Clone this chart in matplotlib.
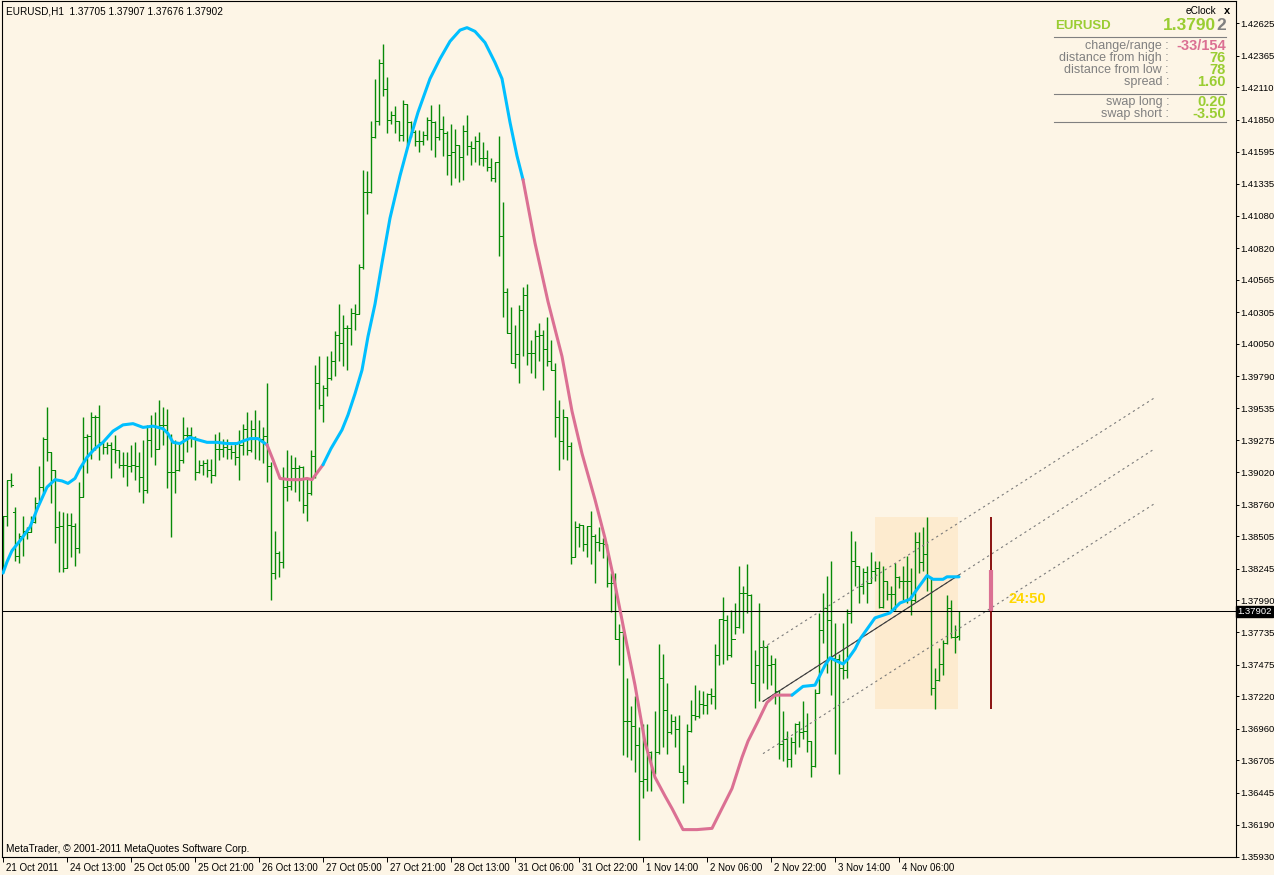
import matplotlib
matplotlib.use('Agg')
import matplotlib.pyplot as plt
from matplotlib.transforms import blended_transform_factory, ScaledTranslation
import numpy as np

plt.rcParams['font.family'] = ['Liberation Sans', 'DejaVu Sans']

# ---------------- data (EURUSD H1) ----------------
symbol_title = "EURUSD,H1  1.37705 1.37907 1.37676 1.37902"
bar_index = list(range(240))

opens = [1.3826, 1.3867, 1.3896, 1.3870, 1.3835, 1.3851, 1.3855, 1.3854, 1.3862, 1.3877,
         1.3890, 1.3929, 1.3918, 1.3904, 1.3858, 1.3859, 1.3825, 1.3860, 1.3859, 1.3841,
         1.3882, 1.3930, 1.3931, 1.3946, 1.3946, 1.3926, 1.3922, 1.3924, 1.3921, 1.3920,
         1.3908, 1.3908, 1.3907, 1.3908, 1.3907, 1.3898, 1.3888, 1.3928, 1.3940, 1.3921,
         1.3940, 1.3940, 1.3902, 1.3902, 1.3904, 1.3912, 1.3932, 1.3932, 1.3930, 1.3902,
         1.3908, 1.3909, 1.3904, 1.3900, 1.3921, 1.3921, 1.3922, 1.3921, 1.3918, 1.3914,
         1.3924, 1.3937, 1.3920, 1.3937, 1.3929, 1.3929, 1.3931, 1.3907, 1.3821, 1.3837,
         1.3830, 1.3890, 1.3891, 1.3905, 1.3905, 1.3906, 1.3876, 1.3885, 1.3915, 1.3974,
         1.3956, 1.3970, 1.3978, 1.3991, 1.4012, 1.4006, 1.4018, 1.4018, 1.4030, 1.4029,
         1.4067, 1.4127, 1.4127, 1.4171, 1.4184, 1.4231, 1.4210, 1.4185, 1.4189, 1.4184,
         1.4173, 1.4198, 1.4183, 1.4175, 1.4168, 1.4168, 1.4173, 1.4185, 1.4183, 1.4171,
         1.4178, 1.4174, 1.4157, 1.4159, 1.4165, 1.4155, 1.4176, 1.4164, 1.4162, 1.4168,
         1.4154, 1.4154, 1.4147, 1.4138, 1.4151, 1.4092, 1.4047, 1.4014, 1.3990, 1.3997,
         1.4032, 1.4044, 1.3998, 1.3998, 1.4011, 1.4012, 1.4001, 1.3991, 1.3984, 1.3946,
         1.3927, 1.3946, 1.3923, 1.3834, 1.3858, 1.3860, 1.3844, 1.3859, 1.3851, 1.3846,
         1.3845, 1.3844, 1.3813, 1.3813, 1.3768, 1.3774, 1.3702, 1.3702, 1.3698, 1.3683,
         1.3654, 1.3656, 1.3677, 1.3661, 1.3677, 1.3737, 1.3711, 1.3693, 1.3702, 1.3696,
         1.3661, 1.3654, 1.3694, 1.3707, 1.3706, 1.3716, 1.3715, 1.3724, 1.3722, 1.3755,
         1.3784, 1.3783, 1.3755, 1.3768, 1.3778, 1.3805, 1.3805, 1.3803, 1.3733, 1.3747,
         1.3762, 1.3762, 1.3747, 1.3748, 1.3726, 1.3684, 1.3688, 1.3672, 1.3685, 1.3700,
         1.3693, 1.3694, 1.3686, 1.3666, 1.3725, 1.3775, 1.3793, 1.3783, 1.3753, 1.3752,
         1.3745, 1.3743, 1.3789, 1.3831, 1.3827, 1.3811, 1.3822, 1.3813, 1.3823, 1.3825,
         1.3794, 1.3815, 1.3804, 1.3804, 1.3818, 1.3815, 1.3815, 1.3815, 1.3799, 1.3846,
         1.3830, 1.3836, 1.3818, 1.3729, 1.3735, 1.3748, 1.3765, 1.3793, 1.3770, 1.37705]

highs = [1.3867, 1.3896, 1.3901, 1.3874, 1.3853, 1.3867, 1.3858, 1.3867, 1.3882, 1.3907,
         1.3930, 1.3954, 1.3918, 1.3904, 1.3871, 1.3870, 1.3869, 1.3869, 1.3861, 1.3894,
         1.3946, 1.3933, 1.3950, 1.3948, 1.3956, 1.3926, 1.3926, 1.3926, 1.3932, 1.3920,
         1.3918, 1.3918, 1.3924, 1.3926, 1.3918, 1.3928, 1.3940, 1.3948, 1.3950, 1.3960,
         1.3954, 1.3953, 1.3933, 1.3928, 1.3926, 1.3946, 1.3938, 1.3938, 1.3931, 1.3912,
         1.3912, 1.3913, 1.3913, 1.3933, 1.3934, 1.3929, 1.3929, 1.3924, 1.3926, 1.3936,
         1.3941, 1.3950, 1.3944, 1.3952, 1.3944, 1.3938, 1.3974, 1.3910, 1.3855, 1.3839,
         1.3906, 1.3920, 1.3916, 1.3914, 1.3908, 1.3907, 1.3897, 1.3920, 1.3988, 1.3995,
         1.3972, 1.3995, 1.3999, 1.4015, 1.4037, 1.4028, 1.4020, 1.4034, 1.4037, 1.4069,
         1.4145, 1.4144, 1.4184, 1.4218, 1.4234, 1.4246, 1.4219, 1.4192, 1.4196, 1.4184,
         1.4201, 1.4198, 1.4184, 1.4177, 1.4177, 1.4176, 1.4187, 1.4197, 1.4184, 1.4198,
         1.4188, 1.4176, 1.4182, 1.4178, 1.4165, 1.4181, 1.4189, 1.4168, 1.4172, 1.4175,
         1.4167, 1.4161, 1.4154, 1.4151, 1.4172, 1.4119, 1.4050, 1.4035, 1.4020, 1.4036,
         1.4051, 1.4053, 1.4008, 1.4016, 1.4022, 1.4016, 1.4027, 1.4008, 1.3990, 1.3960,
         1.3953, 1.3946, 1.3926, 1.3863, 1.3861, 1.3860, 1.3859, 1.3871, 1.3852, 1.3858,
         1.3849, 1.3844, 1.3821, 1.3821, 1.3780, 1.3775, 1.3737, 1.3714, 1.3722, 1.3697,
         1.3700, 1.3700, 1.3678, 1.3710, 1.3764, 1.3756, 1.3733, 1.3708, 1.3706, 1.3707,
         1.3667, 1.3700, 1.3719, 1.3731, 1.3727, 1.3726, 1.3725, 1.3729, 1.3764, 1.3784,
         1.3802, 1.3787, 1.3791, 1.3797, 1.3827, 1.3811, 1.3828, 1.3804, 1.3759, 1.3797,
         1.3767, 1.3763, 1.3755, 1.3753, 1.3727, 1.3710, 1.3694, 1.3689, 1.3701, 1.3702,
         1.3718, 1.3709, 1.3686, 1.3728, 1.3789, 1.3805, 1.3819, 1.3831, 1.3781, 1.3756,
         1.3781, 1.3792, 1.3855, 1.3847, 1.3827, 1.3825, 1.3827, 1.3838, 1.3831, 1.3831,
         1.3827, 1.3815, 1.3811, 1.3829, 1.3819, 1.3827, 1.3835, 1.3825, 1.3854, 1.3854,
         1.3858, 1.38658, 1.3818, 1.3745, 1.3761, 1.3767, 1.3803, 1.3799, 1.3779, 1.37907]

lows = [1.3821, 1.3859, 1.3890, 1.3831, 1.3829, 1.3835, 1.3848, 1.3854, 1.3861, 1.3877,
        1.3885, 1.3911, 1.3877, 1.3845, 1.3822, 1.3822, 1.3825, 1.3834, 1.3827, 1.3837,
        1.3882, 1.3901, 1.3913, 1.3920, 1.3912, 1.3917, 1.3917, 1.3897, 1.3909, 1.3905,
        1.3898, 1.3891, 1.3902, 1.3896, 1.3886, 1.3877, 1.3885, 1.3914, 1.3908, 1.3921,
        1.3924, 1.3889, 1.3850, 1.3885, 1.3903, 1.3909, 1.3918, 1.3922, 1.3896, 1.3901,
        1.3900, 1.3898, 1.3893, 1.3899, 1.3912, 1.3914, 1.3913, 1.3913, 1.3908, 1.3896,
        1.3916, 1.3916, 1.3918, 1.3913, 1.3912, 1.3909, 1.3894, 1.3799, 1.3816, 1.3818,
        1.3825, 1.3879, 1.3888, 1.3886, 1.3879, 1.3869, 1.3863, 1.3884, 1.3897, 1.3953,
        1.3942, 1.3963, 1.3976, 1.3979, 1.3991, 1.3987, 1.3984, 1.4004, 1.4016, 1.4029,
        1.4065, 1.4109, 1.4126, 1.4170, 1.4181, 1.4204, 1.4174, 1.4182, 1.4174, 1.4168,
        1.4168, 1.4165, 1.4171, 1.4164, 1.4159, 1.4165, 1.4169, 1.4161, 1.4155, 1.4169,
        1.4156, 1.4141, 1.4133, 1.4138, 1.4135, 1.4137, 1.4157, 1.4149, 1.4151, 1.4149,
        1.4148, 1.4144, 1.4136, 1.4135, 1.4076, 1.4027, 1.4014, 1.3990, 1.3986, 1.3974,
        1.3995, 1.3988, 1.3982, 1.3978, 1.3991, 1.3968, 1.3987, 1.3984, 1.3930, 1.3904,
        1.3913, 1.3912, 1.3828, 1.3834, 1.3842, 1.3839, 1.3834, 1.3828, 1.3813, 1.3839,
        1.3833, 1.3810, 1.3790, 1.3768, 1.3747, 1.3675, 1.3673, 1.3671, 1.3661, 1.3607,
        1.3640, 1.3646, 1.3646, 1.3660, 1.3676, 1.3681, 1.3676, 1.3692, 1.3681, 1.3661,
        1.3636, 1.3652, 1.3693, 1.3703, 1.3705, 1.3708, 1.3708, 1.3716, 1.3712, 1.3747,
        1.3748, 1.3751, 1.3754, 1.3772, 1.3777, 1.3773, 1.3789, 1.3733, 1.3713, 1.3718,
        1.3733, 1.3728, 1.3731, 1.3716, 1.3672, 1.3670, 1.3665, 1.3665, 1.3676, 1.3681,
        1.3688, 1.3677, 1.3657, 1.3665, 1.3725, 1.3765, 1.3741, 1.3723, 1.3676, 1.3660,
        1.3736, 1.3737, 1.3781, 1.3811, 1.3797, 1.3804, 1.3797, 1.3813, 1.3815, 1.3793,
        1.3793, 1.3799, 1.3791, 1.3791, 1.3809, 1.3799, 1.3797, 1.3787, 1.3798, 1.3821,
        1.3823, 1.3807, 1.3723, 1.37121, 1.3734, 1.3739, 1.3764, 1.3769, 1.3757, 1.37676]

closes = [1.3867, 1.3896, 1.3892, 1.3835, 1.3851, 1.3855, 1.3854, 1.3862, 1.3877, 1.3890,
          1.3929, 1.3918, 1.3904, 1.3858, 1.3859, 1.3825, 1.3860, 1.3859, 1.3841, 1.3882,
          1.3930, 1.3931, 1.3946, 1.3946, 1.3926, 1.3922, 1.3924, 1.3921, 1.3920, 1.3908,
          1.3908, 1.3907, 1.3908, 1.3907, 1.3898, 1.3888, 1.3928, 1.3940, 1.3921, 1.3940,
          1.3940, 1.3902, 1.3902, 1.3904, 1.3912, 1.3932, 1.3932, 1.3930, 1.3902, 1.3908,
          1.3909, 1.3904, 1.3900, 1.3921, 1.3921, 1.3922, 1.3921, 1.3918, 1.3914, 1.3924,
          1.3937, 1.3920, 1.3937, 1.3929, 1.3929, 1.3931, 1.3907, 1.3821, 1.3837, 1.3830,
          1.3890, 1.3891, 1.3905, 1.3905, 1.3906, 1.3876, 1.3885, 1.3915, 1.3974, 1.3956,
          1.3970, 1.3978, 1.3991, 1.4012, 1.4006, 1.4018, 1.4018, 1.4030, 1.4029, 1.4067,
          1.4127, 1.4127, 1.4171, 1.4184, 1.4231, 1.4210, 1.4185, 1.4189, 1.4184, 1.4173,
          1.4198, 1.4183, 1.4175, 1.4168, 1.4168, 1.4173, 1.4185, 1.4183, 1.4171, 1.4178,
          1.4174, 1.4157, 1.4159, 1.4165, 1.4155, 1.4176, 1.4164, 1.4162, 1.4168, 1.4154,
          1.4154, 1.4147, 1.4138, 1.4151, 1.4092, 1.4047, 1.4014, 1.3990, 1.3997, 1.4032,
          1.4044, 1.3998, 1.3998, 1.4011, 1.4012, 1.4001, 1.3991, 1.3984, 1.3946, 1.3927,
          1.3946, 1.3923, 1.3834, 1.3858, 1.3860, 1.3844, 1.3859, 1.3851, 1.3846, 1.3845,
          1.3844, 1.3813, 1.3813, 1.3768, 1.3774, 1.3702, 1.3702, 1.3698, 1.3683, 1.3654,
          1.3656, 1.3677, 1.3661, 1.3677, 1.3737, 1.3711, 1.3693, 1.3702, 1.3696, 1.3661,
          1.3654, 1.3694, 1.3707, 1.3706, 1.3716, 1.3715, 1.3724, 1.3722, 1.3755, 1.3784,
          1.3783, 1.3755, 1.3768, 1.3778, 1.3805, 1.3805, 1.3803, 1.3733, 1.3747, 1.3762,
          1.3762, 1.3747, 1.3748, 1.3726, 1.3684, 1.3688, 1.3672, 1.3685, 1.3700, 1.3693,
          1.3694, 1.3686, 1.3666, 1.3725, 1.3775, 1.3793, 1.3783, 1.3753, 1.3752, 1.3745,
          1.3743, 1.3789, 1.3831, 1.3827, 1.3811, 1.3822, 1.3813, 1.3823, 1.3825, 1.3794,
          1.3815, 1.3804, 1.3804, 1.3818, 1.3815, 1.3815, 1.3815, 1.3799, 1.3846, 1.3830,
          1.3836, 1.3818, 1.3729, 1.3735, 1.3748, 1.3765, 1.3793, 1.3770, 1.3770, 1.37902]

# trend moving average (read at selected bar positions)
ma_index = [0, 1, 2.25, 4.25, 6.75, 8.75, 11, 13, 14.75, 16.25, 18, 19.25, 21, 23, 25,
            27.5, 30, 32.5, 35, 37.5, 40, 41.25, 42.5, 44.25, 46.75, 48.75, 51, 53.5, 56,
            58.5, 60, 61.75, 63.75, 66, 67.5, 69.25, 71.75, 74.25, 76, 77.25, 80, 82,
            84.75, 86.25, 88, 89.75, 91.25, 93, 94.75, 96.75, 99.25, 101.25, 103.75,
            106.75, 109.25, 111.75, 114.25, 116, 118, 120.5, 123, 124.75, 126.75, 128.5,
            130, 133, 136.25, 139.75, 142.25, 144.75, 148, 150.5, 153, 155.5, 158, 160.5,
            163, 165.5, 167.25, 170, 173.5, 177.25, 179.75, 182.25, 184.75, 186.25,
            188.75, 191, 193, 197.25, 200, 203, 204.25, 205.5, 206.75, 208, 210, 211.25,
            213, 214.25, 218, 221.75, 224.25, 226.75, 228.75, 231, 232.5, 235, 236, 239]
ma_values = [1.3821, 1.3830, 1.3839, 1.3847, 1.3858, 1.3874, 1.3890, 1.3896, 1.3895, 1.3893,
             1.3897, 1.3905, 1.3914, 1.3921, 1.3926, 1.3935, 1.3940, 1.3941, 1.3938, 1.3939,
             1.3937, 1.3933, 1.3926, 1.3925, 1.3930, 1.3928, 1.3926, 1.3926, 1.3925, 1.3925,
             1.3927, 1.3929, 1.3929, 1.3924, 1.3912, 1.3897, 1.3896, 1.3896, 1.3897, 1.3896,
             1.3908, 1.3921, 1.3936, 1.3948, 1.3965, 1.3984, 1.4011, 1.4037, 1.4070, 1.4106,
             1.4140, 1.4164, 1.4191, 1.4218, 1.4234, 1.4248, 1.4257, 1.4259, 1.4256, 1.4247,
             1.4231, 1.4218, 1.4183, 1.4156, 1.4137, 1.4086, 1.4039, 1.3995, 1.3951, 1.3917,
             1.3880, 1.3849, 1.3812, 1.3771, 1.3731, 1.3685, 1.3657, 1.3642, 1.3632, 1.3615,
             1.3615, 1.3616, 1.3632, 1.3648, 1.3673, 1.3686, 1.3702, 1.3717, 1.3723, 1.3723,
             1.3730, 1.3731, 1.3739, 1.3747, 1.3753, 1.3751, 1.3748, 1.3752, 1.3760, 1.3768,
             1.3785, 1.3789, 1.3797, 1.3800, 1.3809, 1.3819, 1.3816, 1.3816, 1.3818, 1.3818]
ma_down_spans = [(66, 80), (130, 197.25)]

# regression channel
channel_index = [190, 288]
channel_upper = [1.3761, 1.3962]
channel_mid = [1.3718, 1.3921]
channel_lower = [1.3676, 1.3877]
last_bar = 239

# today's range (eClock)
day_box_index = [218, 238.75]
day_candle_index = 247
day_open, day_high, day_low, day_close = 1.38231, 1.38658, 1.37121, 1.37902
current_price = 1.37902
timer_text = "24:50"
timer_pos = (251.3, 1.38005)

ytick_values = [1.42625, 1.42365, 1.42110, 1.41850, 1.41595, 1.41335, 1.41080, 1.40820,
                1.40565, 1.40305, 1.40050, 1.39790, 1.39535, 1.39275, 1.39020, 1.38760,
                1.38505, 1.38245, 1.37990, 1.37735, 1.37475, 1.37220, 1.36960, 1.36705,
                1.36445, 1.36190, 1.35930]
xtick_index = [0, 16, 32, 48, 64, 80, 96, 112, 128, 144, 160, 176, 192, 208, 224]
xtick_labels = ["21 Oct 2011", "24 Oct 13:00", "25 Oct 05:00", "25 Oct 21:00",
                "26 Oct 13:00", "27 Oct 05:00", "27 Oct 21:00", "28 Oct 13:00",
                "31 Oct 06:00", "31 Oct 22:00", "1 Nov 14:00", "2 Nov 06:00",
                "2 Nov 22:00", "3 Nov 14:00", "4 Nov 06:00"]

panel_labels = ["change/range :", "distance from high :", "distance from low :", "spread :",
                "swap long :", "swap short :"]
panel_values = ["-33/154", "76", "78", "1.60", "0.20", "-3.50"]

# ---------------- styling ----------------
BG = '#FDF5E6'
GREEN = '#088A08'
CYAN = '#00BFFF'
PINK = '#DB7093'
YG = '#9ACD32'
GRAY = '#808080'
BOX = '#FDEBCF'

W, H = 1274, 875
fig = plt.figure(figsize=(W / 100, H / 100), dpi=100, facecolor=BG)
ax = fig.add_axes([2 / W, 18 / H, 1234 / W, 856 / H], facecolor=BG)
ax.set_xlim(-0.25, 308.25)
ax.set_ylim(1.35930, 1.42804)

def fx(x):
    return x / W

def fy(y):
    return 1 - y / H

# today's box
ax.fill_between(day_box_index, [day_low] * 2, [day_high] * 2, color=BOX, lw=0, zorder=0)

# OHLC bars
idx = np.array(bar_index, dtype=float)
ax.vlines(idx, lows, highs, color=GREEN, lw=1.0, zorder=2)
ax.hlines(opens, idx - 0.5, idx, color=GREEN, lw=0.7, antialiased=False, zorder=2)
ax.hlines(closes, idx, idx + 0.5, color=GREEN, lw=0.7, antialiased=False, zorder=2)

# regression channel
dash = (0, (2, 3))
ax.plot(channel_index, channel_upper, color='#7a7a7a', lw=0.8, ls=dash, zorder=3)
ax.plot(channel_index, channel_lower, color='#7a7a7a', lw=0.8, ls=dash, zorder=3)
ax.plot(channel_index, channel_mid, color='#7a7a7a', lw=0.8, ls=dash, zorder=3)
solid_x = [channel_index[0], last_bar]
ax.plot(solid_x, np.interp(solid_x, channel_index, channel_mid), color='#3a3a3a', lw=0.8, zorder=3)

# moving average coloured by trend
def is_down(a, b):
    m = 0.5 * (a + b)
    return any(s <= m <= e for s, e in ma_down_spans)

runs = []
for k in range(len(ma_index) - 1):
    c = PINK if is_down(ma_index[k], ma_index[k + 1]) else CYAN
    if runs and runs[-1][0] == c:
        runs[-1][1].append(k + 1)
    else:
        runs.append([c, [k, k + 1]])
for c, ks in runs:
    ax.plot([ma_index[k] for k in ks], [ma_values[k] for k in ks], color=c, lw=2.2,
            solid_capstyle='round', solid_joinstyle='round', zorder=4)

# current price line
ax.axhline(current_price, color='black', lw=0.75, zorder=3)

# daily candle
ax.vlines(day_candle_index, day_low, day_high, color='#800000', lw=1.3, zorder=4)
ax.vlines(day_candle_index, day_close, day_open, color=PINK, lw=3.0, zorder=5)

# timer
ax.text(timer_pos[0], timer_pos[1], timer_text, color='#FFD700', fontsize=10.5, fontweight='bold',
        family=['Liberation Sans Narrow', 'Liberation Sans', 'DejaVu Sans'], va='center', ha='left', zorder=6)

# axes styling
for s in ax.spines.values():
    s.set_color('black')
    s.set_linewidth(0.8)
ax.yaxis.tick_right()
ax.set_yticks(ytick_values)
ax.set_yticklabels([f"{v:.5f}" for v in ytick_values])
ax.tick_params(axis='y', direction='out', length=2.2, width=0.7, pad=1.2, labelsize=6.8, colors='black')
ax.set_xticks(xtick_index)
ax.set_xticklabels(xtick_labels)
ax.tick_params(axis='x', direction='out', length=3.5, width=0.7, pad=0.5, labelsize=7.0, colors='black')
offset = ScaledTranslation(3 / 100, 0, fig.dpi_scale_trans)
for lab in ax.get_xticklabels():
    lab.set_ha('left')
    lab.set_transform(lab.get_transform() + offset)

# current price tag on axis
trans = blended_transform_factory(ax.transAxes, ax.transData)
ax.text(1.0012, current_price, f"{current_price:.5f}", transform=trans, color='white', fontsize=6.8,
        va='center', ha='left', zorder=10, clip_on=False,
        bbox=dict(boxstyle='square,pad=0.12', fc='black', ec='black'))

# title and copyright
fig.text(fx(6), fy(11), symbol_title, fontsize=7.2, va='center', ha='left', color='black')
fig.text(fx(6), fy(849), "MetaTrader, \u00a9 2001-2011 MetaQuotes Software Corp.", fontsize=7.3,
         va='center', ha='left', color='black')

# eClock panel
narrow = ['Liberation Sans Narrow', 'Liberation Sans', 'DejaVu Sans']
fig.text(fx(1216), fy(11), "eClock", fontsize=7.3, va='center', ha='right', color='black')
fig.text(fx(1227), fy(11), "x", fontsize=8, fontweight='bold', va='center', ha='center', color='black')
fig.text(fx(1055), fy(26), "EURUSD", fontsize=9.5, fontweight='bold', va='center', ha='left', color=YG)
fig.text(fx(1226), fy(26), "2", fontsize=12.5, fontweight='bold', va='center', ha='right', color=GRAY)
fig.text(fx(1216), fy(26), "1.3790", fontsize=12.5, fontweight='bold', va='center', ha='right', color=YG)
for yy in (37, 94, 122):
    fig.add_artist(plt.Line2D([fx(1054), fx(1226)], [fy(yy), fy(yy)], color=GRAY, lw=0.8))
row_y = [46, 58, 70, 82, 102, 114]
for lab, val, yy in zip(panel_labels, panel_values, row_y):
    fig.text(fx(1169), fy(yy), lab, fontsize=9, va='center', ha='right', color=GRAY)
    fig.text(fx(1226), fy(yy), val, fontsize=10.5, fontweight='bold', va='center', ha='right',
             color=PINK if val.startswith('-33') else YG, family=narrow)

fig.savefig('out.png', dpi=100, facecolor=BG)
